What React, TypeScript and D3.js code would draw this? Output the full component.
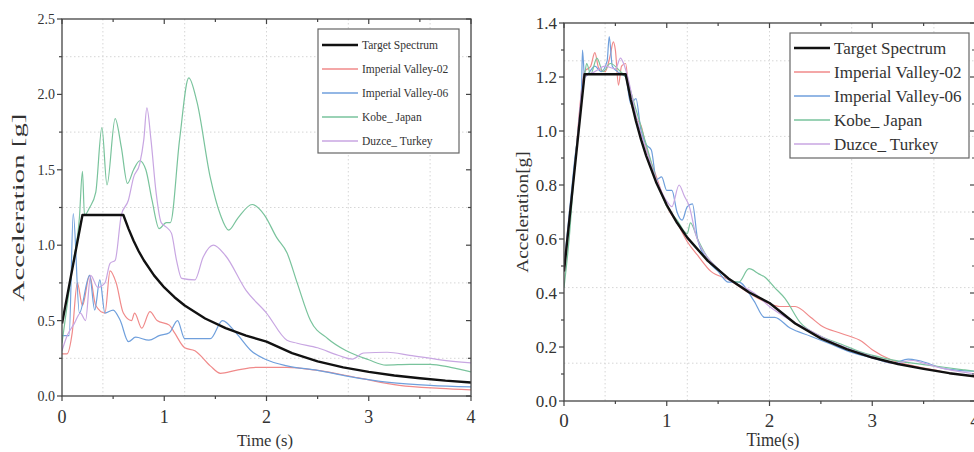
import React from "react";
import * as d3 from "d3";

type P = [number, number];

// ---------- Left panel data ----------
const leftTarget: P[] = [[0,0.48],[0.2,1.2],[0.6,1.2],[0.65,1.11],[0.7,1.03],[0.75,0.96],[0.8,0.9],[0.9,0.8],[1.0,0.72],[1.1,0.655],[1.2,0.6],[1.4,0.514],[1.6,0.45],[1.8,0.4],[2.0,0.36],[2.25,0.284],[2.5,0.23],[2.75,0.19],[3.0,0.16],[3.25,0.136],[3.5,0.118],[3.75,0.102],[4.0,0.09]];
const leftIV02: P[] = [[0,0.28],[0.05,0.28],[0.1,0.42],[0.15,0.75],[0.2,0.6],[0.27,0.8],[0.33,0.6],[0.42,0.55],[0.47,0.83],[0.53,0.75],[0.6,0.55],[0.68,0.5],[0.71,0.55],[0.78,0.45],[0.86,0.56],[0.93,0.5],[1.05,0.47],[1.1,0.42],[1.2,0.32],[1.3,0.3],[1.45,0.2],[1.55,0.15],[1.7,0.17],[1.9,0.19],[2.2,0.19],[2.5,0.17],[2.9,0.12],[3.3,0.07],[3.7,0.05],[4.0,0.04]];
const leftIV06: P[] = [[0,0.4],[0.07,0.4],[0.11,1.21],[0.17,0.55],[0.27,0.8],[0.32,0.57],[0.37,0.77],[0.42,0.55],[0.5,0.57],[0.57,0.5],[0.65,0.36],[0.72,0.39],[0.85,0.37],[0.95,0.4],[1.05,0.42],[1.13,0.5],[1.2,0.38],[1.45,0.38],[1.57,0.5],[1.7,0.42],[1.85,0.3],[2.0,0.24],[2.2,0.2],[2.5,0.17],[2.8,0.13],[3.2,0.09],[3.6,0.07],[4.0,0.06]];
const leftKobe: P[] = [[0,0.35],[0.1,0.85],[0.17,1.18],[0.2,1.49],[0.22,1.2],[0.27,1.25],[0.33,1.35],[0.39,1.78],[0.44,1.4],[0.52,1.84],[0.58,1.65],[0.64,1.41],[0.7,1.5],[0.76,1.56],[0.82,1.5],[0.88,1.3],[0.95,1.11],[1.02,1.15],[1.06,1.15],[1.15,1.7],[1.24,2.11],[1.32,1.95],[1.45,1.45],[1.55,1.2],[1.63,1.1],[1.72,1.18],[1.86,1.27],[1.98,1.2],[2.1,1.05],[2.2,0.95],[2.3,0.75],[2.43,0.5],[2.6,0.38],[2.78,0.3],[3.0,0.24],[3.17,0.205],[3.4,0.21],[3.6,0.21],[3.8,0.19],[4.0,0.16]];
const leftDuzce: P[] = [[0,0.3],[0.05,0.4],[0.12,0.48],[0.18,0.55],[0.23,0.5],[0.28,0.8],[0.35,0.72],[0.42,0.75],[0.47,0.88],[0.52,0.9],[0.58,1.2],[0.65,1.3],[0.7,1.45],[0.76,1.54],[0.8,1.7],[0.83,1.91],[0.87,1.7],[0.92,1.35],[0.97,1.15],[1.02,1.12],[1.07,1.08],[1.12,0.9],[1.17,0.78],[1.3,0.77],[1.38,0.92],[1.48,1.0],[1.6,0.93],[1.8,0.7],[2.0,0.55],[2.2,0.37],[2.3,0.35],[2.5,0.32],[2.7,0.27],[2.84,0.245],[2.95,0.285],[3.18,0.29],[3.4,0.27],[3.7,0.24],[4.0,0.22]];

// ---------- Right panel data ----------
const rightTarget: P[] = [[0,0.48],[0.2,1.21],[0.6,1.21],[0.65,1.117],[0.7,1.037],[0.75,0.968],[0.8,0.908],[0.9,0.807],[1.0,0.726],[1.1,0.66],[1.2,0.605],[1.4,0.519],[1.6,0.454],[1.8,0.403],[2.0,0.363],[2.25,0.287],[2.5,0.232],[2.75,0.192],[3.0,0.161],[3.25,0.137],[3.5,0.119],[3.75,0.103],[4.0,0.091]];
const rightIV02: P[] = [[0,0.48],[0.1,0.85],[0.2,1.22],[0.26,1.24],[0.3,1.29],[0.34,1.23],[0.4,1.22],[0.45,1.28],[0.48,1.33],[0.5,1.3],[0.53,1.17],[0.56,1.24],[0.6,1.25],[0.63,1.15],[0.7,1.05],[0.75,1.02],[0.8,0.94],[0.9,0.83],[1.0,0.72],[1.1,0.66],[1.2,0.59],[1.3,0.54],[1.43,0.48],[1.6,0.45],[1.8,0.4],[2.0,0.36],[2.1,0.35],[2.25,0.35],[2.4,0.31],[2.5,0.28],[2.7,0.25],[2.9,0.22],[3.0,0.19],[3.2,0.15],[3.4,0.13],[3.6,0.115],[3.8,0.1],[4.0,0.09]];
const rightIV06: P[] = [[0,0.5],[0.1,0.88],[0.17,1.15],[0.18,1.3],[0.2,1.2],[0.25,1.22],[0.3,1.24],[0.36,1.22],[0.42,1.26],[0.44,1.35],[0.47,1.24],[0.52,1.22],[0.6,1.2],[0.65,1.1],[0.7,1.12],[0.75,1.0],[0.8,0.95],[0.85,0.93],[0.9,0.82],[0.95,0.83],[1.0,0.78],[1.05,0.78],[1.1,0.7],[1.15,0.67],[1.2,0.72],[1.25,0.73],[1.3,0.6],[1.4,0.52],[1.5,0.48],[1.6,0.44],[1.7,0.44],[1.85,0.37],[1.95,0.31],[2.05,0.31],[2.2,0.27],[2.4,0.24],[2.6,0.21],[2.8,0.18],[3.0,0.16],[3.2,0.14],[3.35,0.155],[3.45,0.15],[3.7,0.12],[4.0,0.11]];
const rightKobe: P[] = [[0,0.42],[0.05,0.6],[0.1,0.85],[0.2,1.2],[0.22,1.25],[0.26,1.21],[0.32,1.27],[0.38,1.22],[0.45,1.25],[0.55,1.22],[0.6,1.2],[0.7,1.08],[0.8,0.95],[0.9,0.82],[1.0,0.72],[1.1,0.67],[1.2,0.62],[1.23,0.66],[1.3,0.6],[1.4,0.53],[1.5,0.49],[1.6,0.45],[1.7,0.44],[1.8,0.49],[1.9,0.47],[1.95,0.46],[2.05,0.42],[2.15,0.38],[2.3,0.29],[2.5,0.24],[2.7,0.21],[2.9,0.18],[3.1,0.16],[3.3,0.145],[3.5,0.135],[3.7,0.125],[3.9,0.115],[4.0,0.11]];
const rightDuzce: P[] = [[0,0.5],[0.1,0.85],[0.2,1.2],[0.3,1.22],[0.4,1.24],[0.5,1.23],[0.55,1.27],[0.58,1.25],[0.62,1.2],[0.7,1.06],[0.8,0.93],[0.9,0.82],[1.0,0.74],[1.05,0.72],[1.12,0.8],[1.17,0.76],[1.22,0.72],[1.28,0.62],[1.4,0.53],[1.5,0.49],[1.6,0.45],[1.7,0.43],[1.85,0.4],[2.0,0.35],[2.2,0.3],[2.4,0.26],[2.6,0.22],[2.8,0.19],[3.0,0.165],[3.2,0.14],[3.4,0.15],[3.5,0.14],[3.7,0.12],[4.0,0.1]];

const seriesNames = ["Target Spectrum", "Imperial Valley-02", "Imperial Valley-06", "Kobe_ Japan", "Duzce_ Turkey"];
const seriesColors = ["#111111", "#f08a8a", "#6f9fdc", "#79c39c", "#c8a6e2"];
const xTicks = [0, 1, 2, 3, 4];
const leftYTicks = [0, 0.5, 1.0, 1.5, 2.0, 2.5];
const rightYTicks = [0, 0.2, 0.4, 0.6, 0.8, 1.0, 1.2, 1.4];

const FONT = "'Liberation Serif', 'DejaVu Serif', serif";

interface PanelProps {
  id: string;
  x0: number; x1: number; y0: number; y1: number;
  yMax: number; yTicks: number[]; yMinorStep: number;
  series: P[][];
  yTickFont: number; xTickFont: number;
  yTitle: string; yTitleX: number; yTitleStretch: number; yTitleFont: number;
  xTitle: string; xTitleX: number; xTitleY: number; xTitleLen: number; xTitleFont: number;
  legend: { x: number; y: number; w: number; h: number; rowY0: number; rowStep: number; lineLen: number; font: number };
  xTickLabelY: number;
}

function Panel(p: PanelProps) {
  const x = d3.scaleLinear().domain([0, 4]).range([p.x0, p.x1]);
  const y = d3.scaleLinear().domain([0, p.yMax]).range([p.y0, p.y1]);
  const line = d3.line<P>().x((d) => x(d[0])).y((d) => y(d[1]));
  const smooth = d3.line<P>().x((d) => x(d[0])).y((d) => y(d[1])).curve(d3.curveMonotoneX);
  const xMinor = d3.range(0, 4.001, 0.5);
  const yMinor = d3.range(0, p.yMax + 1e-6, p.yMinorStep);
  const gridX = [0.4, 1.2, 2.0, 2.8, 3.6];
  const gridY = d3.range(0, 5).map((i) => ((i + 0.5) * p.yMax) / 5);
  const axisColor = "#444";
  const isMajorX = (v: number) => Math.abs(v - Math.round(v)) < 1e-6;
  const isMajorY = (v: number) => p.yTicks.some((t) => Math.abs(t - v) < 1e-6);
  const L = p.legend;
  return (
    <g>
      <defs>
        <clipPath id={p.id + "clip"}>
          <rect x={p.x0} y={p.y1} width={p.x1 - p.x0} height={p.y0 - p.y1} />
        </clipPath>
      </defs>
      {gridX.map((g) => (
        <line key={"gx" + g} x1={x(g)} x2={x(g)} y1={p.y1} y2={p.y0} stroke="#d6d6d6" strokeDasharray="1.5,2.5" strokeWidth={1} />
      ))}
      {gridY.map((g) => (
        <line key={"gy" + g} x1={p.x0} x2={p.x1} y1={y(g)} y2={y(g)} stroke="#d6d6d6" strokeDasharray="1.5,2.5" strokeWidth={1} />
      ))}
      <g clipPath={`url(#${p.id}clip)`}>
        {p.series.slice(1).map((s, i) => (
          <path key={i} d={smooth(s) || ""} fill="none" stroke={seriesColors[i + 1]} strokeWidth={1.2} />
        ))}
        <path d={line(p.series[0]) || ""} fill="none" stroke={seriesColors[0]} strokeWidth={2.4} strokeLinejoin="round" />
      </g>
      <rect x={p.x0} y={p.y1} width={p.x1 - p.x0} height={p.y0 - p.y1} fill="none" stroke={axisColor} strokeWidth={1.3} />
      {xMinor.map((v) => {
        const len = isMajorX(v) ? 5 : 3;
        return (
          <g key={"xt" + v}>
            <line x1={x(v)} x2={x(v)} y1={p.y0} y2={p.y0 + len} stroke={axisColor} strokeWidth={1.2} />
            <line x1={x(v)} x2={x(v)} y1={p.y1} y2={p.y1 + len} stroke={axisColor} strokeWidth={1.2} />
          </g>
        );
      })}
      {yMinor.map((v) => {
        const len = isMajorY(v) ? 5 : 3;
        return (
          <g key={"yt" + v}>
            <line x1={p.x0} x2={p.x0 - len} y1={y(v)} y2={y(v)} stroke={axisColor} strokeWidth={1.2} />
            <line x1={p.x1} x2={p.x1 - len} y1={y(v)} y2={y(v)} stroke={axisColor} strokeWidth={1.2} />
          </g>
        );
      })}
      {xTicks.map((v) => (
        <text key={"xl" + v} x={x(v)} y={p.xTickLabelY} textAnchor="middle" fontFamily={FONT} fontSize={p.xTickFont} fill="#333">
          {v}
        </text>
      ))}
      {p.yTicks.map((v) => (
        <text key={"yl" + v} x={p.x0 - 7} y={y(v)} dy="0.35em" textAnchor="end" fontFamily={FONT} fontSize={p.yTickFont} fill="#333">
          {v.toFixed(1)}
        </text>
      ))}
      <text
        transform={`translate(${p.yTitleX},${(p.y0 + p.y1) / 2}) rotate(-90) scale(${p.yTitleStretch},1)`}
        textAnchor="middle"
        dy="0.35em"
        fontFamily={FONT}
        fontSize={p.yTitleFont}
        fill="#333"
      >
        {p.yTitle}
      </text>
      <text x={p.xTitleX} y={p.xTitleY} textAnchor="middle" fontFamily={FONT} fontSize={p.xTitleFont} textLength={p.xTitleLen} lengthAdjust="spacingAndGlyphs" fill="#333">
        {p.xTitle}
      </text>
      <rect x={L.x} y={L.y} width={L.w} height={L.h} fill="#fff" stroke="#666" strokeWidth={1.2} />
      {seriesNames.map((n, i) => {
        const ry = L.rowY0 + i * L.rowStep;
        return (
          <g key={n}>
            <line x1={L.x + 4} x2={L.x + 4 + L.lineLen} y1={ry} y2={ry} stroke={seriesColors[i]} strokeWidth={i === 0 ? 2.4 : 1.3} />
            <text x={L.x + 8 + L.lineLen} y={ry} dy="0.33em" fontFamily={FONT} fontSize={L.font} fill="#333">
              {n}
            </text>
          </g>
        );
      })}
    </g>
  );
}

export default function App() {
  return (
    <svg width={974} height={452} style={{ position: "absolute", left: 0, top: 0, background: "#fff" }}>
      <rect x={0} y={0} width={974} height={452} fill="#fff" />
      <Panel
        id="L"
        x0={62} x1={471} y0={396} y1={19}
        yMax={2.5} yTicks={leftYTicks} yMinorStep={0.25}
        series={[leftTarget, leftIV02, leftIV06, leftKobe, leftDuzce]}
        yTickFont={14} xTickFont={18}
        yTitle="Acceleration [g]" yTitleX={18} yTitleStretch={1.8} yTitleFont={16}
        xTitle="Time (s)" xTitleX={265} xTitleY={446} xTitleLen={56} xTitleFont={17}
        legend={{ x: 318, y: 29, w: 141, h: 124, rowY0: 45, rowStep: 24, lineLen: 36, font: 11.5 }}
        xTickLabelY={423}
      />
      <Panel
        id="R"
        x0={564} x1={975} y0={401} y1={23}
        yMax={1.4} yTicks={rightYTicks} yMinorStep={0.1}
        series={[rightTarget, rightIV02, rightIV06, rightKobe, rightDuzce]}
        yTickFont={17} xTickFont={19}
        yTitle="Acceleration[g]" yTitleX={522} yTitleStretch={1.14} yTitleFont={17}
        xTitle="Time(s)" xTitleX={773} xTitleY={446} xTitleLen={53} xTitleFont={18}
        legend={{ x: 790, y: 33, w: 179, h: 125, rowY0: 48, rowStep: 24, lineLen: 36, font: 17 }}
        xTickLabelY={427}
      />
    </svg>
  );
}
